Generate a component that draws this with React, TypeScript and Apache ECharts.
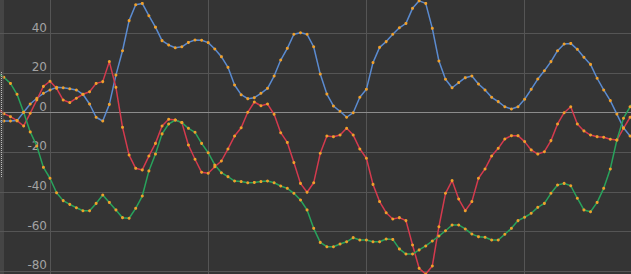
import React, { useEffect, useRef } from "react";
import * as echarts from "echarts";

// sample index of the first value below (x = index)
const FIRST_INDEX = -8;

const blueValues = [
  -4.3, -4.2, -4.2, -4.0, 0.2, 4.4, 7.3, 9.8,
  11.5, 12.8, 12.6, 12.1, 11.5, 9.3, 4.4, -2.3, -4.2, 4.2, 19, 31.3, 46.5, 54.5, 55.2, 49,
  43.2, 36.4, 34.2, 32.8, 33.3, 35.5, 36.7, 36.6, 35.4, 32.2, 28.3, 22.9, 14, 9.1, 7.1, 7.6,
  9.8, 12.3, 18.5, 26.6, 32.5, 39.6, 40.4, 39.6, 33.3, 19.5, 9.4, 3.4, 0.7, -2.3, 0, 7.8,
  11.8, 25.3, 33, 35.9, 39.6, 42.9, 45.1, 52.7, 56.5, 55.2, 42.6, 26.1, 16.9, 12.6, 15.2, 17.7,
  18.5, 14.5, 11.5, 7.8, 5.6, 3, 1.9, 3, 6.8, 11.8, 17, 21.2, 25.8, 31.3, 34.7, 35,
  32, 28, 24.4, 17.4, 11.5, 6.1, -0.7, -7.6, -11.8, -14,
];

const redValues = [
  2.5, -0.5, -2, -4, -6.7, -0.3, 6.5, 13.3,
  15.9, 12.3, 6.4, 5.1, 7.3, 9.3, 10.6, 14.8, 15.7, 25.8, 12.8, -7.4, -21.4, -28.1, -28.9, -21.9,
  -15.5, -6.7, -3.3, -3.7, -5, -16.3, -23.5, -30.1, -30.6, -27.3, -24.4, -18.3, -11.8, -7.6, 0.2, 5.4,
  3.5, 4.4, -0.8, -10.1, -15, -25.2, -35.7, -40.2, -35.4, -20.5, -11.8, -12.1, -11.3, -7.9, -11.3, -18.3,
  -23, -36.2, -44.9, -50.5, -53.7, -53, -54.5, -66.8, -78.6, -81.5, -77.4, -57.6, -40.7, -34.3, -43.6, -49.5,
  -44.9, -33.1, -28.4, -21.9, -18, -13.3, -11.6, -11.6, -14.6, -18.8, -20.9, -19.7, -14.1, -5.7, 0, 3,
  -5.7, -9.2, -11.3, -12.1, -12.4, -13.4, -13.8, -7.9, -2.3, 1,
];

const greenValues = [
  20, 17.9, 14.8, 9.3, 0.2, -9.7, -16.8, -27.6,
  -33.1, -40.4, -44.4, -46.3, -48, -49.5, -49.5, -45.8, -41.6, -45.3, -49.1, -53, -53.3, -48.3, -42.1, -29.4,
  -20.9, -10.7, -5.7, -3.7, -5, -7.9, -9.9, -15.5, -20.2, -26.4, -30.3, -32.3, -34.5, -34.8, -35.4, -35.2,
  -34.8, -34.5, -35.4, -37, -38.2, -40.7, -44.1, -49.1, -58.4, -65.5, -67.7, -67.7, -66.3, -65.2, -63.1, -64.3,
  -64.3, -65.2, -65.2, -63.8, -64, -68.8, -71.4, -71.4, -69.3, -67.3, -64.8, -62.3, -59.6, -56.7, -56.7, -58.7,
  -61.3, -62.6, -62.9, -64.3, -64.3, -61.4, -58.4, -54.5, -52.8, -50.8, -47.8, -45.8, -40.7, -36.5, -35.7, -36.9,
  -43.2, -49.1, -50, -45.3, -38.2, -28.4, -13.8, -2.8, 3, 8,
];

const yTicks = [-100, -80, -60, -40, -20, 0, 20, 40, 60];

const toPairs = (vals: number[]) => vals.map((v, i) => [FIRST_INDEX + i, v]);

// the chart canvas is larger than the visible window and shifted by these amounts
const SHIFT_X = 130;
const SHIFT_Y = 30;

export default function App() {
  const ref = useRef<HTMLDivElement>(null);
  useEffect(() => {
    if (!ref.current) return;
    const chart = echarts.init(ref.current, undefined, { renderer: "svg" });
    const step = 158.2 / 24;
    const unit = 1.98;
    const gridLeft = 50 - 24 * step + SHIFT_X;
    const zeroY = 112.7 + SHIFT_Y;
    const yMax = yTicks[yTicks.length - 1];
    const yMin = yTicks[0];
    const axisX = 50 + SHIFT_X;
    const mk = (name: string, color: string, vals: number[]) => ({
      name,
      type: "line",
      data: toPairs(vals),
      symbol: "circle",
      symbolSize: 3,
      showSymbol: true,
      itemStyle: { color: "#f0a02a" },
      lineStyle: { color, width: 1.5 },
      emphasis: { disabled: true },
    });
    chart.setOption({
      animation: false,
      backgroundColor: "#343434",
      grid: {
        left: gridLeft,
        top: zeroY - yMax * unit,
        width: 120 * step,
        height: (yMax - yMin) * unit,
      },
      xAxis: {
        type: "value",
        min: -24,
        max: 96,
        interval: 24,
        axisLine: { show: true, onZero: true, lineStyle: { color: "#8c8c8c", width: 1 } },
        axisTick: { show: false },
        axisLabel: { show: false },
        splitLine: { show: true, lineStyle: { color: "#555555", width: 1 } },
      },
      yAxis: {
        type: "value",
        min: yMin,
        max: yMax,
        interval: 20,
        offset: -(axisX - gridLeft),
        axisLine: { show: false },
        axisTick: { show: false },
        axisLabel: {
          color: "#a3a3a3",
          fontSize: 12,
          fontFamily: "DejaVu Sans, sans-serif",
          verticalAlign: "bottom",
          margin: 3,
          showMinLabel: false,
          showMaxLabel: false,
        },
        splitLine: { show: true, lineStyle: { color: "#555555", width: 1 } },
      },
      series: [
        mk("A", "#5b8bd0", blueValues),
        mk("B", "#d43a4e", redValues),
        mk("C", "#28a35c", greenValues),
      ],
      graphic: [
        {
          type: "rect",
          shape: { x: SHIFT_X, y: SHIFT_Y, width: 4, height: 274 },
          style: { fill: "rgba(90,90,90,0.45)" },
          z: 100,
        },
        {
          type: "line",
          shape: { x1: SHIFT_X + 1.5, y1: SHIFT_Y + 72, x2: SHIFT_X + 1.5, y2: SHIFT_Y + 178 },
          style: { stroke: "#bdbdbd", lineWidth: 1, lineDash: [1, 1] },
          z: 101,
        },
      ],
    });
    return () => chart.dispose();
  }, []);
  return (
    <div
      style={{
        position: "absolute",
        left: 0,
        top: 0,
        width: 631,
        height: 274,
        overflow: "hidden",
      }}
    >
      <div
        ref={ref}
        style={{
          position: "absolute",
          left: -SHIFT_X,
          top: -SHIFT_Y,
          width: 631 + SHIFT_X + 80,
          height: 274 + SHIFT_Y + 80,
        }}
      />
    </div>
  );
}
